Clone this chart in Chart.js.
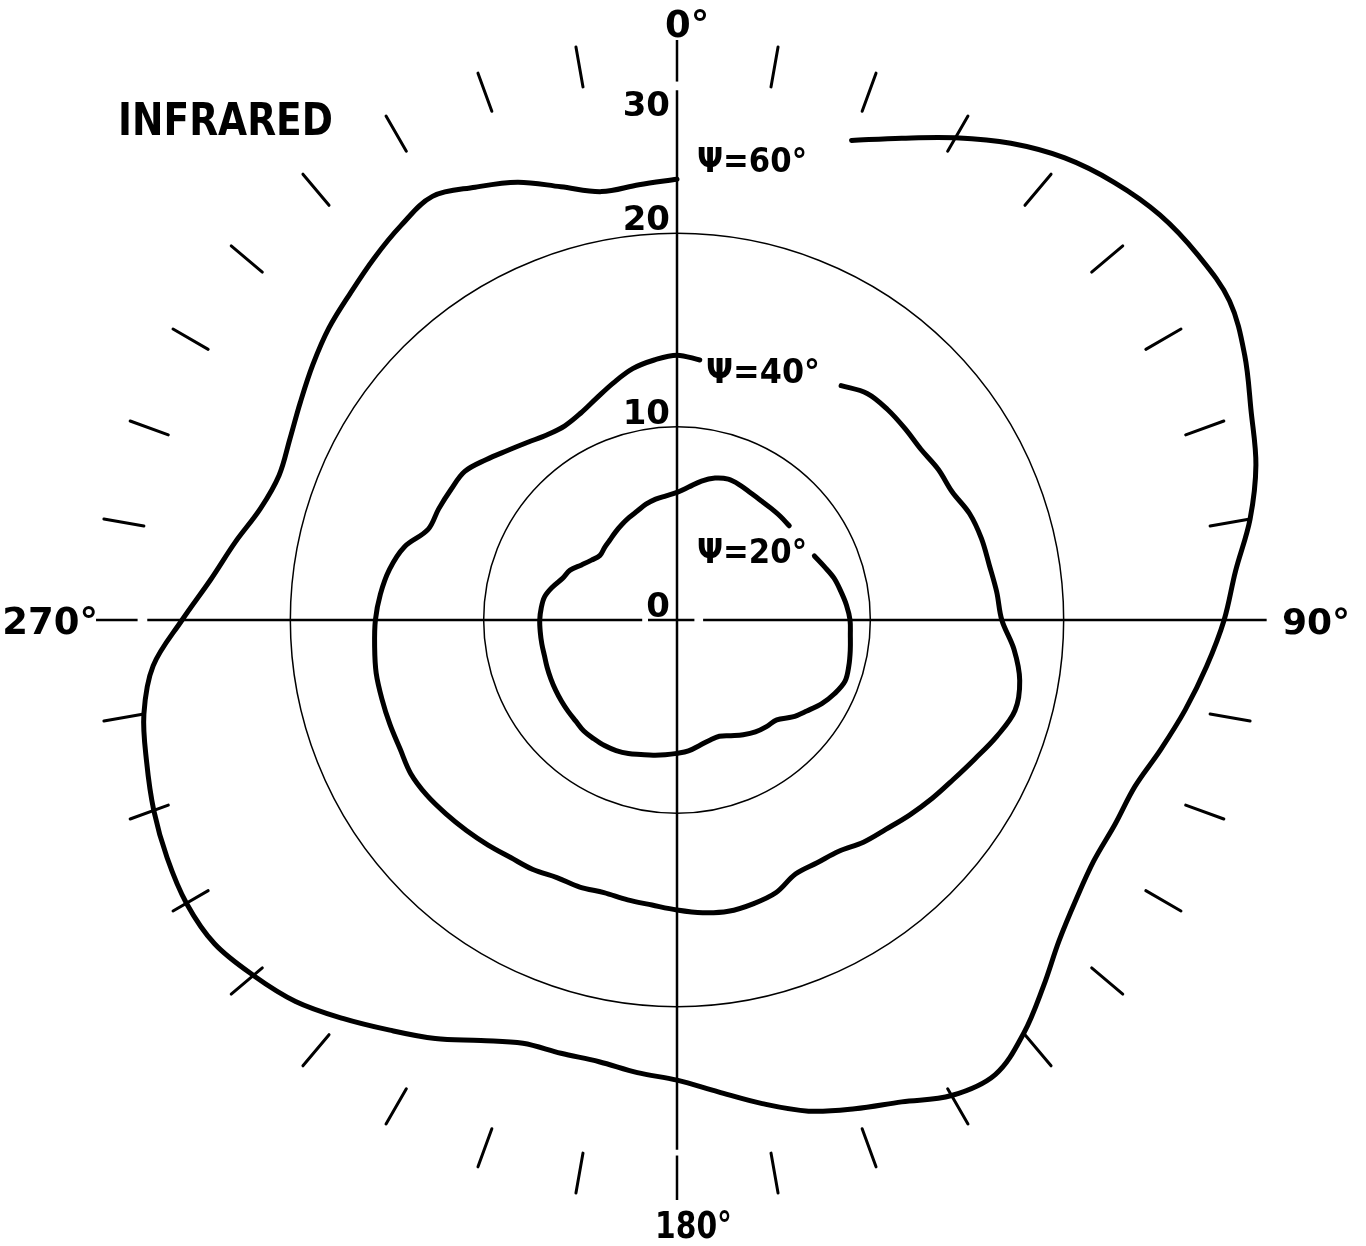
<!DOCTYPE html>
<html>
<head>
<meta charset="utf-8">
<title>Infrared</title>
<script src="https://cdn.jsdelivr.net/npm/chart.js@4.4.0/dist/chart.umd.min.js"></script>
<style>
  html, body { margin: 0; padding: 0; background: #fff; }
  #chart { display: block; }
</style>
</head>
<body>
<canvas id="chart" width="1366" height="1246"></canvas>
<script>
// Bearing of each spoke, clockwise from the top, every 5 degrees
const angles = [
  '0°','5°','10°','15°','20°','25°','30°','35°','40°','45°','50°','55°',
  '60°','65°','70°','75°','80°','85°','90°','95°','100°','105°','110°','115°',
  '120°','125°','130°','135°','140°','145°','150°','155°','160°','165°','170°','175°',
  '180°','185°','190°','195°','200°','205°','210°','215°','220°','225°','230°','235°',
  '240°','245°','250°','255°','260°','265°','270°','275°','280°','285°','290°','295°',
  '300°','305°','310°','315°','320°','325°','330°','335°','340°','345°','350°','355°'
];

// Contours (null = gap left for the label)
const psi20 = [
  6.6, 6.9, 7.3, 7.6, 7.75, 7.7, 7.6, 7.55, 7.55, 7.57, 7.58, null,
  null, 7.84, 8.1, 8.4, 8.6, 8.8, 8.95, 9.0, 9.1, 9.2, 9.25, 9.0,
  8.65, 8.2, 7.8, 7.3, 7.2, 7.07, 6.85, 6.6, 6.4, 6.45, 6.6, 6.8,
  6.9, 7.0, 7.1, 7.2, 7.35, 7.45, 7.5, 7.5, 7.5, 7.4, 7.35, 7.3,
  7.25, 7.2, 7.15, 7.1, 7.1, 7.1, 7.1, 7.05, 6.95, 6.65, 6.3, 6.1,
  5.7, 5.4, 5.2, 5.3, 5.4, 5.55, 5.7, 5.85, 6.0, 6.2, 6.35, 6.45
];
const psi40 = [
  13.7, 13.5, null, null, null, null, null, 14.8, 15.3, 15.4, 15.4, 15.4,
  15.6, 15.7, 16.1, 16.3, 16.4, 16.6, 16.8, 17.5, 18.0, 18.1, 17.6, 17.0,
  16.5, 16.1, 15.7, 15.3, 15.0, 14.6, 14.5, 14.5, 15.0, 15.2, 15.3, 15.2,
  15.0, 14.8, 14.7, 14.6, 14.7, 14.7, 14.9, 15.0, 15.2, 15.4, 15.6, 15.8,
  15.9, 15.8, 15.8, 15.8, 15.8, 15.7, 15.6, 15.4, 15.1, 14.6, 13.7, 13.6,
  13.5, 13.4, 12.9, 12.4, 12.0, 11.7, 11.6, 11.8, 12.2, 12.7, 13.2, 13.5
];
const psi60 = [
  22.8, null, null, null, 26.4, 27.5, 28.8, 30.1, 31.2, 32.0, 32.6, 32.9,
  33.0, 32.4, 31.6, 31.0, 30.1, 29.0, 28.3, 27.5, 26.7, 25.9, 25.2, 25.0,
  24.9, 25.2, 25.8, 26.8, 27.9, 28.7, 28.4, 27.5, 26.9, 26.3, 25.4, 24.5,
  23.8, 23.5, 23.2, 23.2, 23.3, 24.0, 25.0, 25.9, 26.9, 27.9, 28.6, 29.2,
  29.3, 29.1, 28.8, 28.4, 28.0, 27.2, 25.6, 24.2, 23.2, 22.3, 21.9, 22.1,
  22.5, 23.0, 23.5, 23.9, 24.4, 24.9, 25.3, 24.7, 24.1, 23.2, 22.5, 22.6
];

const radialTicks = [0, 10, 20, 30];
const circleValues = [10, 20];
const axisLabels = ['0°', '90°', '180°', '270°'];
const tickMarkAngles = [
  10, 20, 30, 40, 50, 60, 70, 80,
  100, 110, 120, 130, 140, 150, 160, 170,
  190, 200, 210, 220, 230, 240, 250, 260,
  280, 290, 300, 310, 320, 330, 340, 350
];
const contourNames = ['Ψ=20°', 'Ψ=40°', 'Ψ=60°'];

// axis lines are broken where the outer tick ring starts
const axisRuns = [
  { deg: 0,   runs: [[0, 27.4], [27.85, 30]] },
  { deg: 90,  runs: [[0, 0.9], [1.35, 30.5]] },
  { deg: 180, runs: [[0, 27.4], [27.7, 30]] },
  { deg: 270, runs: [[0, 1.5], [1.8, 27.4], [27.9, 30.05]] }
];

const FONT = '"DejaVu Sans", "Liberation Sans", sans-serif';

function drawText(ctx, str, x, y, size, align, width) {
  ctx.save();
  ctx.font = 'bold ' + size + 'px ' + FONT;
  ctx.textBaseline = 'alphabetic';
  ctx.textAlign = 'left';
  const w = ctx.measureText(str).width;
  const sx = width ? width / w : 1;
  let left = x;
  if (align === 'right') left = x - w * sx;
  else if (align === 'center') left = x - w * sx / 2;
  ctx.translate(left, y);
  ctx.scale(sx, 1);
  ctx.fillText(str, 0, 0);
  ctx.restore();
}

function idx(deg) {
  return angles.indexOf(deg + '°');
}

const polarDecor = {
  id: 'polarDecor',
  beforeDatasetsDraw(chart) {
    const ctx = chart.ctx;
    const r = chart.scales.r;
    ctx.save();
    ctx.strokeStyle = '#000';
    ctx.lineCap = 'butt';

    // cross-hair axes
    ctx.lineWidth = 2.5;
    axisRuns.forEach(a => {
      a.runs.forEach(run => {
        const p = r.getPointPositionForValue(idx(a.deg), run[0]);
        const q = r.getPointPositionForValue(idx(a.deg), run[1]);
        ctx.beginPath();
        ctx.moveTo(p.x, p.y);
        ctx.lineTo(q.x, q.y);
        ctx.stroke();
      });
    });

    // 10 degree tick ring
    ctx.lineWidth = 3;
    ctx.lineCap = 'round';
    tickMarkAngles.forEach(deg => {
      const p = r.getPointPositionForValue(idx(deg), 28.0);
      const q = r.getPointPositionForValue(idx(deg), 30.1);
      ctx.beginPath();
      ctx.moveTo(p.x, p.y);
      ctx.lineTo(q.x, q.y);
      ctx.stroke();
    });
    ctx.restore();
  },
  afterDraw(chart) {
    const ctx = chart.ctx;
    const r = chart.scales.r;
    const cx = r.xCenter, cy = r.yCenter;
    const edge = r.getDistanceFromCenterForValue(30);
    ctx.save();
    ctx.fillStyle = '#000';

    // radial values, left of the vertical axis just above each circle
    radialTicks.forEach(v => {
      const d = r.getDistanceFromCenterForValue(Math.min(v, 25.9));
      drawText(ctx, String(v), cx - 7, cy - d - 3, 34, 'right');
    });

    // bearings at the ends of the axes
    drawText(ctx, axisLabels[0], cx - 12, cy - edge - 3, 37, 'left');
    drawText(ctx, axisLabels[1], cx + edge + 25, cy + 14, 36, 'left');
    drawText(ctx, axisLabels[2], cx - 22, cy + edge + 38, 38, 'left', 77);
    drawText(ctx, axisLabels[3], cx - edge + 1, cy + 14, 37, 'right');

    // contour labels sit in the gaps of each curve
    drawText(ctx, contourNames[2], cx + 20, cy - 448, 34, 'left', 110);
    drawText(ctx, contourNames[1], cx + 29, cy - 237, 34, 'left', 114);
    drawText(ctx, contourNames[0], cx + 20, cy - 57, 34, 'left', 110);

    drawText(ctx, 'INFRARED', 118, 135, 45, 'left', 215);
    ctx.restore();
  }
};

function contour(label, values) {
  return {
    label: label,
    data: values,
    borderColor: '#000',
    backgroundColor: 'transparent',
    borderWidth: 5,
    borderCapStyle: 'round',
    borderJoinStyle: 'round',
    pointRadius: 0,
    pointHoverRadius: 0,
    fill: false,
    spanGaps: false,
    tension: 0.35,
    clip: false
  };
}

new Chart(document.getElementById('chart'), {
  type: 'radar',
  data: {
    labels: angles,
    datasets: [
      contour(contourNames[0], psi20),
      contour(contourNames[1], psi40),
      contour(contourNames[2], psi60)
    ]
  },
  options: {
    responsive: false,
    devicePixelRatio: 1,
    animation: false,
    events: [],
    layout: { padding: { left: 97, top: 40, right: 109, bottom: 46 } },
    plugins: {
      legend: { display: false },
      tooltip: { enabled: false },
      title: { display: false }
    },
    scales: {
      r: {
        min: 0,
        max: 30,
        startAngle: 0,
        ticks: { display: false, stepSize: 10 },
        pointLabels: { display: false },
        angleLines: { display: false },
        grid: {
          circular: true,
          lineWidth: 1.5,
          color: ctx => circleValues.includes(ctx.tick && ctx.tick.value) ? '#000' : 'rgba(0,0,0,0)'
        }
      }
    }
  },
  plugins: [polarDecor]
});
</script>
</body>
</html>
